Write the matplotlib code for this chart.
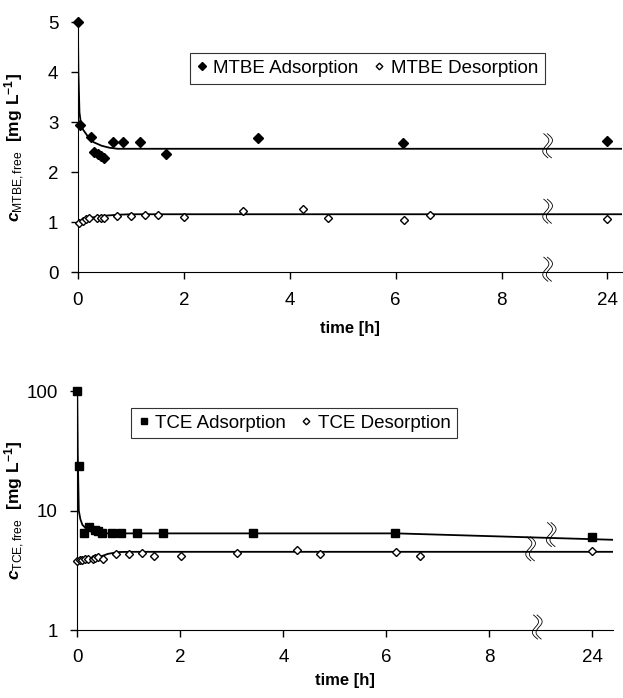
import matplotlib
matplotlib.use("Agg")
import matplotlib.pyplot as plt
import matplotlib.transforms as mtransforms
import numpy as np

plt.rcParams['font.family'] = ['Liberation Sans', 'DejaVu Sans']
plt.rcParams['mathtext.fontset'] = 'custom'
plt.rcParams['mathtext.rm'] = 'Liberation Sans'
plt.rcParams['mathtext.bf'] = 'Liberation Sans:bold'
plt.rcParams['mathtext.it'] = 'Liberation Sans:italic:bold'

# x positions: 0..8 h are real, position 10 stands for 24 h (axis break)
tick_pos = [0, 2, 4, 6, 8, 10]
tick_lab = ['0', '2', '4', '6', '8', '24']

# MTBE
mtbe_ads_t = [0, 0.04, 0.25, 0.31, 0.38, 0.44, 0.5, 0.67, 0.85, 1.17, 1.66, 3.4, 6.13, 10]
mtbe_ads_c = [5.0, 2.94, 2.7, 2.4, 2.36, 2.32, 2.28, 2.6, 2.6, 2.6, 2.37, 2.68, 2.58, 2.63]
mtbe_des_t = [0.02, 0.09, 0.15, 0.21, 0.36, 0.43, 0.49, 0.74, 1.0, 1.26, 1.51, 2.0, 3.11, 4.26,
              4.72, 6.15, 6.64, 10]
mtbe_des_c = [0.98, 1.03, 1.06, 1.08, 1.08, 1.08, 1.08, 1.13, 1.12, 1.15, 1.15, 1.1, 1.22, 1.26,
              1.08, 1.04, 1.15, 1.06]
mtbe_ads_fit_t = [0, 0.01, 0.03, 0.06, 0.1, 0.2, 0.3, 0.45, 0.6, 0.75, 1.0, 10.3]
mtbe_ads_fit_c = [5.0, 4.0, 3.2, 2.95, 2.85, 2.7, 2.6, 2.53, 2.49, 2.47, 2.47, 2.47]
mtbe_des_fit_t = [0, 0.1, 0.2, 0.3, 0.5, 0.75, 1.0, 1.5, 10.3]
mtbe_des_fit_c = [0.97, 1.04, 1.08, 1.1, 1.13, 1.15, 1.16, 1.16, 1.16]

# TCE
tce_ads_t = [0, 0.03, 0.14, 0.23, 0.34, 0.4, 0.49, 0.67, 0.85, 1.16, 1.66, 3.41, 6.16, 10]
tce_ads_c = [100, 23.6, 6.5, 7.3, 6.9, 6.7, 6.5, 6.5, 6.5, 6.5, 6.5, 6.5, 6.5, 5.97]
tce_des_t = [0.0, 0.05, 0.1, 0.15, 0.2, 0.3, 0.35, 0.4, 0.5, 0.76, 1.0, 1.26, 1.49, 2.02, 3.1,
             4.27, 4.71, 6.18, 6.65, 10]
tce_des_c = [3.8, 3.85, 3.85, 3.9, 3.95, 3.95, 4.05, 4.1, 3.95, 4.35, 4.35, 4.45, 4.2, 4.2, 4.45,
             4.64, 4.35, 4.47, 4.2, 4.58]
tce_ads_fit_t = [0, 0.01, 0.03, 0.06, 0.1, 0.2, 0.3, 0.5, 6.2, 10.4]
tce_ads_fit_c = [100, 30, 10, 8.5, 7.6, 6.9, 6.6, 6.45, 6.45, 5.7]
tce_des_fit_t = [0, 0.2, 0.4, 0.6, 0.8, 1.0, 10.4]
tce_des_fit_c = [3.75, 3.85, 4.05, 4.35, 4.5, 4.52, 4.52]


def break_mark(ax, fig, x, y):
    # double wavy break sign, drawn in inches around (x, y) in data coords
    tr = fig.dpi_scale_trans + mtransforms.ScaledTranslation(x, y, ax.transData)
    s = np.linspace(-1, 1, 40)
    h = 0.12
    w = 0.04
    dx = w * np.sin(np.pi * s) + 0.02 * (-s)
    dy = h * s + 0.03
    g = 0.018
    for off in (-g, g):
        ax.plot(dx + off, dy, color='black', lw=0.6, transform=tr, clip_on=False, zorder=6)


def style_axis(ax, xpad):
    ax.spines['top'].set_visible(False)
    ax.spines['right'].set_visible(False)
    ax.set_xticks(tick_pos)
    ax.set_xticklabels(tick_lab)
    ax.tick_params(direction='out', length=5, width=1, labelsize=13.5, pad=9)
    ax.set_xlabel('time [h]', fontsize=12, fontweight='bold', labelpad=xpad)


def make_legend(ax, x, y):
    leg = ax.legend(loc='upper left', bbox_to_anchor=(x, y), borderaxespad=0, ncol=2,
                    fontsize=13.5, frameon=True, fancybox=False, edgecolor='black',
                    handlelength=0.6, handletextpad=0.3, columnspacing=0.8, borderpad=0.35,
                    markerscale=0.75)
    leg.get_frame().set_linewidth(0.8)


fig = plt.figure(figsize=(6.23, 6.98), dpi=100)

# ---- MTBE panel ----
ax1 = fig.add_axes([0.125, 0.610, 0.873, 0.358])
ax1.plot(mtbe_ads_fit_t, mtbe_ads_fit_c, color='black', lw=1.3, zorder=2)
ax1.plot(mtbe_des_fit_t, mtbe_des_fit_c, color='black', lw=1.3, zorder=2)
ax1.plot(mtbe_ads_t, mtbe_ads_c, 'D', color='black', ms=5.5, ls='none',
         label='MTBE Adsorption', clip_on=False, zorder=7)
ax1.plot(mtbe_des_t, mtbe_des_c, 'D', mfc='white', mec='black', mew=1.0, ms=4.5, ls='none',
         label='MTBE Desorption', clip_on=False, zorder=7)
ax1.set_xlim(0, 10.27)
ax1.set_ylim(0, 5)
ax1.set_yticks([0, 1, 2, 3, 4, 5])
style_axis(ax1, 9)
ax1.set_ylabel(r'$\mathit{c}_{\mathrm{MTBE,free}}$  $\mathbf{[mg\ L^{-1}]}$', fontsize=12.5)
ax1.yaxis.set_label_coords(-0.094, 0.5)
for yb in [2.47, 1.16, 0]:
    break_mark(ax1, fig, 8.87, yb)
make_legend(ax1, 0.206, 0.876)

# ---- TCE panel ----
ax2 = fig.add_axes([0.124, 0.0974, 0.860, 0.342])
ax2.plot(tce_ads_fit_t, tce_ads_fit_c, color='black', lw=1.3, zorder=2)
ax2.plot(tce_des_fit_t, tce_des_fit_c, color='black', lw=1.3, zorder=2)
ax2.plot(tce_ads_t, tce_ads_c, 's', color='black', ms=5.5, ls='none',
         label='TCE Adsorption', clip_on=False, zorder=7)
ax2.plot(tce_des_t, tce_des_c, 'D', mfc='white', mec='black', mew=1.0, ms=4.5, ls='none',
         label='TCE Desorption', clip_on=False, zorder=7)
ax2.set_yscale('log')
ax2.set_xlim(0, 10.4)
ax2.set_ylim(1, 100)
ax2.set_yticks([1, 10, 100])
ax2.set_yticklabels(['1', '10', '100'])
ax2.yaxis.set_minor_locator(matplotlib.ticker.NullLocator())
style_axis(ax2, 5)
ax2.set_ylabel(r'$\mathit{c}_{\mathrm{TCE,free}}$  $\mathbf{[mg\ L^{-1}]}$', fontsize=12.5)
ax2.yaxis.set_label_coords(-0.093, 0.5)
break_mark(ax2, fig, 9.2, 5.95)
break_mark(ax2, fig, 8.8, 4.52)
break_mark(ax2, fig, 8.93, 1)
make_legend(ax2, 0.101, 0.929)

fig.savefig('out.png', dpi=100)
